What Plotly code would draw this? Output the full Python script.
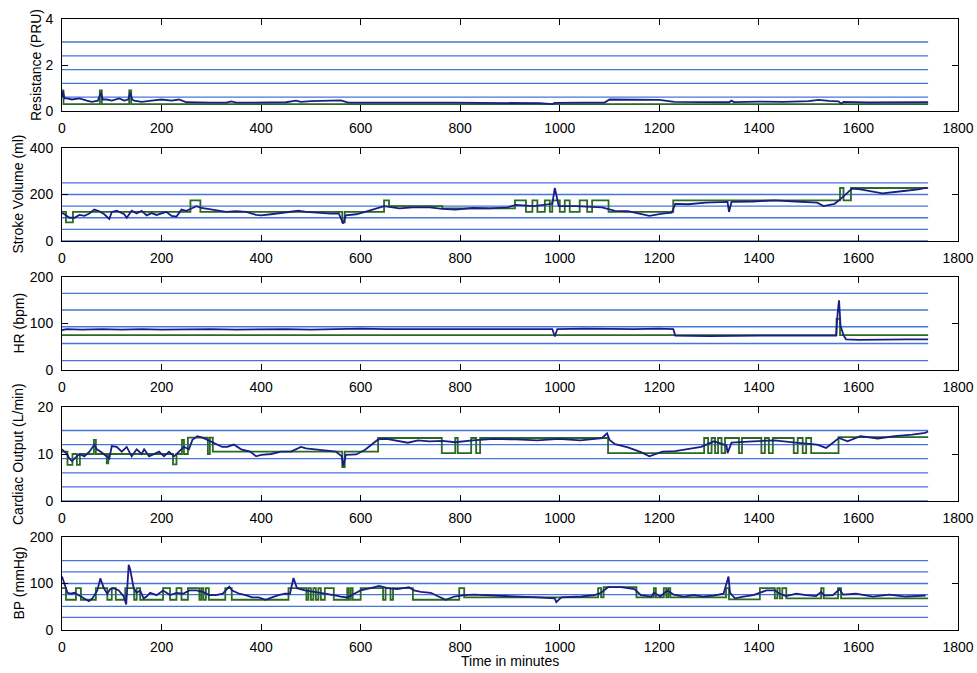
import plotly.graph_objects as go

T_END = 1740
X_TICKS = [0, 200, 400, 600, 800, 1000, 1200, 1400, 1600, 1800]

# ---------------- Panel 1: Resistance (PRU) ----------------
res_levels = [0.6, 1.2, 1.8, 2.4, 3.0]
res_t = [0, 2, 5, 10, 20, 35, 50, 60, 72, 78, 82, 90, 100, 115, 125, 133, 137, 141, 145, 160, 180,
         200, 220, 235, 250, 280, 300, 330, 340, 350, 400, 450, 470, 480, 500, 530, 560, 575, 620,
         640, 700, 780, 850, 900, 960, 985, 990, 1050, 1090, 1100, 1150, 1200, 1230, 1280, 1340,
         1345, 1350, 1400, 1450, 1500, 1520, 1540, 1560, 1565, 1570, 1620, 1700, 1740]
res_v = [0.6, 0.85, 0.55, 0.55, 0.5, 0.55, 0.45, 0.4, 0.45, 0.8, 0.5, 0.5, 0.45, 0.55, 0.45, 0.5, 0.8,
         0.5, 0.45, 0.4, 0.45, 0.5, 0.45, 0.5, 0.38, 0.35, 0.36, 0.36, 0.42, 0.36, 0.37, 0.38, 0.45,
         0.4, 0.43, 0.45, 0.46, 0.36, 0.35, 0.37, 0.36, 0.36, 0.35, 0.35, 0.34, 0.3, 0.35, 0.36, 0.37,
         0.5, 0.49, 0.48, 0.4, 0.38, 0.38, 0.45, 0.39, 0.41, 0.4, 0.43, 0.48, 0.44, 0.42, 0.32, 0.4,
         0.37, 0.38, 0.38]
res_step_t = [0, 3, 76, 80, 135, 139, 1740]
res_step_v = [0.9, 0.3, 0.9, 0.3, 0.9, 0.3, 0.3]

# ---------------- Panel 2: Stroke Volume (ml) ----------------
sv_levels = [0, 50, 100, 150, 200, 250]
sv_t = [0, 5, 15, 25, 35, 45, 55, 65, 75, 85, 95, 100, 110, 125, 130, 140, 150, 160, 170, 180, 190,
        200, 210, 220, 230, 240, 250, 260, 270, 280, 290, 300, 310, 330, 350, 370, 390, 400, 420, 440,
        460, 475, 490, 520, 540, 556, 565, 570, 591, 609, 626, 647, 678, 704, 739, 764, 790, 825, 860,
        895, 912, 947, 985, 990, 998, 1033, 1085, 1111, 1137, 1163, 1180, 1206, 1225, 1232, 1258, 1293,
        1337, 1340, 1345, 1388, 1431, 1474, 1517, 1530, 1552, 1561, 1574, 1587, 1604, 1648, 1691, 1720,
        1738]
sv_v = [120, 115, 100, 100, 112, 108, 118, 135, 128, 115, 95, 125, 130, 115, 100, 130, 118, 130, 110,
        120, 112, 118, 125, 108, 105, 135, 130, 140, 150, 142, 138, 135, 132, 125, 128, 125, 112, 110,
        115, 120, 125, 130, 125, 120, 118, 119, 75, 110, 115, 125, 135, 150, 140, 145, 145, 138, 135,
        142, 140, 145, 155, 150, 160, 228, 150, 150, 145, 130, 128, 115, 108, 118, 122, 160, 158, 165,
        168, 125, 168, 170, 175, 170, 165, 150, 160, 175, 200, 225, 222, 205, 215, 222, 230]
sv_step_t = [0, 8, 22, 258, 278, 563, 568, 647, 657, 764, 910, 932, 945, 955, 970, 980, 985, 1000, 1010,
             1020, 1040, 1055, 1065, 1098, 1228, 1563, 1570, 1585, 1740]
sv_step_v = [125, 80, 125, 175, 125, 80, 125, 175, 150, 140, 175, 125, 175, 125, 175, 125, 175, 125, 175,
             125, 175, 125, 175, 125, 175, 228, 175, 228, 228]

# ---------------- Panel 3: HR (bpm) ----------------
hr_levels = [20, 57, 93, 129, 165]
hr_t = [0, 10, 40, 80, 120, 160, 200, 250, 300, 350, 400, 450, 500, 550, 600, 650, 700, 750, 800, 850,
        900, 950, 985, 990, 995, 1050, 1100, 1150, 1200, 1228, 1232, 1300, 1400, 1500, 1555, 1558,
        1561, 1564, 1570, 1575, 1600, 1700, 1740]
hr_v = [86, 88, 87, 88, 87, 88, 87, 88, 88, 87, 88, 88, 87, 88, 89, 88, 88, 89, 88, 88, 89, 88, 88, 72,
        88, 89, 88, 88, 89, 88, 74, 73, 74, 73, 74, 120, 150, 95, 75, 66, 65, 66, 66]
hr_step_t = [0, 1556, 1563, 1740]
hr_step_v = [75, 110, 75, 75]

# ---------------- Panel 4: Cardiac Output (L/min) ----------------
co_levels = [0, 3, 6, 9, 12, 15]
co_t = [0, 5, 10, 15, 20, 25, 35, 45, 55, 65, 70, 80, 90, 95, 100, 110, 120, 130, 140, 150, 160, 165,
        175, 185, 195, 205, 215, 225, 235, 245, 255, 262, 272, 282, 292, 302, 312, 322, 332, 345, 360,
        378, 390, 400, 420, 440, 460, 470, 480, 490, 510, 530, 550, 562, 565, 570, 591, 609, 635, 652,
        675, 695, 715, 738, 764, 790, 825, 868, 912, 955, 998, 1041, 1085, 1095, 1100, 1111, 1137, 1163,
        1180, 1206, 1232, 1258, 1284, 1310, 1335, 1337, 1345, 1388, 1431, 1474, 1517, 1535, 1561, 1578,
        1604, 1639, 1673, 1708, 1734, 1740]
co_v = [11, 10.5, 10, 9, 8.5, 9, 10, 9.5, 10.5, 12, 11, 10.3, 9.5, 9, 11.7, 11.5, 10.5, 11.5, 9.5, 11,
        10, 11, 9.5, 10, 10.5, 9.5, 10.5, 9.5, 10.5, 11.5, 11, 13, 13.8, 13.5, 13, 12.5, 12, 11.5, 11.5,
        12, 11, 10.5, 9.5, 9.8, 10, 10.5, 10.5, 11, 11.5, 11.2, 11, 10.8, 10.5, 9.5, 7.4, 9.8, 9.9, 10.9,
        13.1, 13.2, 12.8, 12.4, 12.9, 12.7, 12.8, 12.5, 12.9, 13.2, 13.1, 12.9, 13.2, 12.9, 13.4, 14.4,
        13.0, 12.1, 11.4, 10.4, 9.5, 10.5, 10.6, 11.1, 11.5, 12.7, 11.8, 10.2, 12.4, 12.7, 12.9, 12.4,
        12.0, 11.3, 13.4, 12.7, 13.8, 13.3, 13.8, 14.1, 14.5, 14.8]
co_step_t = [0, 11, 21, 30, 36, 64, 68, 90, 93, 223, 230, 241, 245, 253, 293, 297, 303, 563, 568, 635,
             763, 790, 795, 822, 832, 840, 1097, 1290, 1298, 1305, 1312, 1318, 1325, 1332, 1360, 1366,
             1405, 1412, 1420, 1428, 1470, 1478, 1488, 1495, 1505, 1560, 1740]
co_step_v = [10.5, 7.7, 10, 7.7, 10, 13, 10, 8, 10, 7.8, 10, 13, 10, 13.5, 10, 13.5, 10.5, 7.2, 10.5,
             13.4, 10.2, 13.4, 10.2, 13.4, 10.2, 13.4, 10.2, 13.4, 10.2, 13.4, 10.2, 13.4, 10.2, 13.4,
             10.2, 13.4, 10.2, 13.4, 10.2, 13.4, 10.2, 13.4, 10.2, 13.4, 10.2, 13.6, 13.6]

# ---------------- Panel 5: BP (mmHg) ----------------
bp_levels = [27, 51, 76, 100, 125, 149]
bp_t = [0, 5, 11, 18, 25, 38, 48, 54, 61, 71, 77, 84, 91, 97, 104, 114, 124, 129, 134, 137, 144, 150,
        157, 164, 170, 177, 190, 203, 217, 230, 243, 256, 270, 283, 296, 309, 323, 336, 342, 356, 369,
        382, 395, 409, 422, 435, 448, 458, 465, 472, 488, 508, 519, 546, 560, 573, 587, 600, 620, 637,
        654, 674, 697, 707, 721, 741, 754, 771, 788, 808, 828, 855, 889, 922, 956, 990, 993, 1003, 1043,
        1070, 1083, 1097, 1123, 1150, 1163, 1184, 1189, 1202, 1216, 1229, 1249, 1269, 1289, 1309, 1329,
        1339, 1342, 1352, 1369, 1389, 1402, 1415, 1432, 1442, 1455, 1475, 1495, 1515, 1525, 1532, 1549,
        1562, 1569, 1595, 1629, 1662, 1695, 1735]
bp_v = [115, 100, 80, 78, 80, 72, 65, 62, 68, 85, 111, 90, 78, 88, 90, 85, 72, 55, 140, 130, 90, 80,
        85, 68, 72, 80, 75, 85, 75, 80, 78, 85, 85, 82, 75, 75, 78, 93, 85, 78, 75, 70, 70, 65, 70, 75,
        78, 78, 112, 90, 85, 82, 80, 75, 72, 70, 78, 85, 90, 95, 90, 88, 92, 85, 82, 80, 73, 65, 72, 75,
        76, 75, 74, 72, 70, 68, 60, 70, 72, 75, 80, 92, 92, 88, 75, 72, 80, 72, 85, 76, 72, 75, 72, 74,
        78, 115, 80, 68, 72, 75, 80, 85, 85, 78, 73, 78, 75, 73, 82, 74, 75, 88, 76, 78, 72, 76, 72, 74]
bp_step_t = [0, 8, 28, 38, 68, 91, 100, 108, 127, 145, 150, 157, 203, 217, 230, 240, 253, 276, 280, 284,
             289, 295, 328, 341, 455, 491, 495, 500, 505, 510, 515, 520, 528, 546, 573, 576, 580, 584, 600,
             645, 650, 660, 665, 705, 798, 808, 1077, 1083, 1088, 1154, 1189, 1193, 1209, 1214, 1218,
             1222, 1229, 1334, 1340, 1402, 1432, 1437, 1442, 1447, 1455, 1525, 1530, 1559, 1565, 1740]
bp_step_v = [90, 65, 90, 65, 90, 65, 90, 65, 90, 65, 90, 65, 90, 65, 90, 65, 90, 65, 90, 65, 90, 65,
             90, 65, 90, 65, 90, 65, 90, 65, 90, 65, 90, 65, 90, 65, 90, 65, 90, 65, 90, 65, 90, 65, 90,
             70, 90, 70, 92, 70, 90, 70, 90, 70, 90, 70, 70, 90, 66, 90, 68, 90, 68, 90, 68, 90, 68,
             90, 68, 68]

panels = [
    ("Resistance (PRU)", [0, 4], [0, 2, 4], res_levels, res_t, res_v, res_step_t, res_step_v),
    ("Stroke Volume (ml)", [0, 400], [0, 200, 400], sv_levels, sv_t, sv_v, sv_step_t, sv_step_v),
    ("HR (bpm)", [0, 200], [0, 100, 200], hr_levels, hr_t, hr_v, hr_step_t, hr_step_v),
    ("Cardiac Output (L/min)", [0, 20], [0, 10, 20], co_levels, co_t, co_v, co_step_t, co_step_v),
    ("BP (mmHg)", [0, 200], [0, 100, 200], bp_levels, bp_t, bp_v, bp_step_t, bp_step_v),
]

W, H = 977, 673
X0, X1 = 62, 958
panel_px = [(19, 111), (148, 241), (277, 370), (407, 501), (537, 630)]
title_x = [36, 18, 18, 18, 18]

LINE_BLUE = "#4474dc"
NAVY = "#1b1c86"
GREEN = "#2a6a22"
FONT = "Liberation Sans, Arial, Helvetica, sans-serif"

fig = go.Figure()
layout = dict(
    width=W, height=H, margin=dict(l=0, r=0, t=0, b=0, autoexpand=False),
    paper_bgcolor="white", plot_bgcolor="white", showlegend=False,
    font=dict(family=FONT, size=14, color="black"),
    annotations=[],
)

for i, (title, yr, yt, levels, bt, bv, st, sv) in enumerate(panels):
    n = i + 1
    xa = "x" if n == 1 else f"x{n}"
    ya = "y" if n == 1 else f"y{n}"
    for lv in levels:
        fig.add_trace(go.Scatter(x=[0, T_END], y=[lv, lv], mode="lines",
                                 line=dict(color=LINE_BLUE, width=1.3),
                                 xaxis=xa, yaxis=ya, hoverinfo="skip"))
    fig.add_trace(go.Scatter(x=st, y=sv, mode="lines", line=dict(color=GREEN, width=1.8, shape="hv"),
                             xaxis=xa, yaxis=ya))
    fig.add_trace(go.Scatter(x=bt, y=bv, mode="lines", line=dict(color=NAVY, width=1.8),
                             xaxis=xa, yaxis=ya))
    top, bot = panel_px[i]
    common = dict(showline=True, linecolor="black", linewidth=1, mirror="allticks",
                  ticks="inside", ticklen=6, tickcolor="black", tickwidth=1, automargin=False,
                  showgrid=False, zeroline=False, tickfont=dict(family=FONT, size=14, color="black"))
    layout["xaxis" if n == 1 else f"xaxis{n}"] = dict(
        domain=[X0 / W, X1 / W], range=[0, 1800], tickvals=X_TICKS,
        anchor=ya, ticklabelstandoff=4, **common)
    layout["yaxis" if n == 1 else f"yaxis{n}"] = dict(
        domain=[1 - bot / H, 1 - top / H], range=yr, tickvals=yt,
        anchor=xa, ticklabelstandoff=5, **common)
    layout["annotations"].append(dict(
        text=title, x=title_x[i] / W, y=1 - (top + bot) / 2 / H, xref="paper", yref="paper",
        textangle=-90, showarrow=False, xanchor="center", yanchor="middle",
        font=dict(family=FONT, size=14, color="black")))

layout["annotations"].append(dict(
    text="Time in minutes", x=(X0 + X1) / 2 / W, y=1 - 661 / H, xref="paper", yref="paper",
    showarrow=False, xanchor="center", yanchor="middle",
    font=dict(family=FONT, size=14, color="black")))

fig.update_layout(**layout)
fig.write_html("out.html", config={"displayModeBar": False},
               post_script="document.body.style.margin='0px';")
